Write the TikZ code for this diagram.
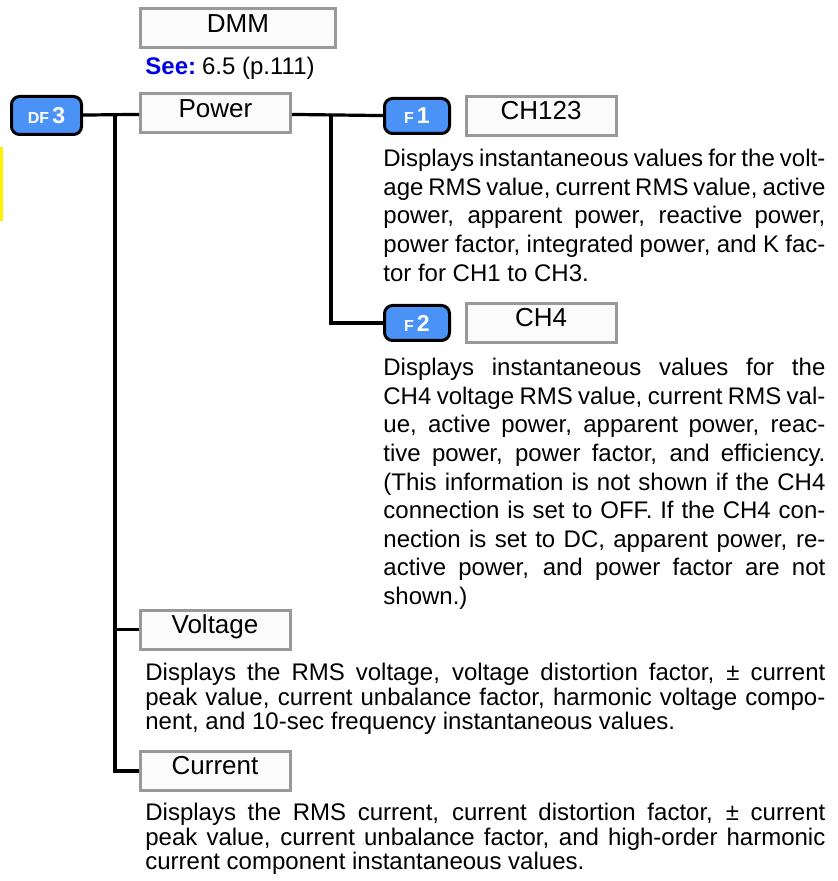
\documentclass[tikz,border=0pt]{standalone}
\usepackage{fontspec}
\setmainfont{Liberation Sans}
\usepackage{xcolor}
\usetikzlibrary{positioning}
\definecolor{keyblue}{RGB}{74,146,245}
\definecolor{framegray}{RGB}{153,153,153}
\definecolor{seeblue}{RGB}{0,0,235}
\newcommand{\keytext}[2]{{\fontsize{8}{8}\selectfont #1}\hspace{1.5pt}{\fontsize{11.5}{11.5}\selectfont #2}}

\begin{document}
\begin{tikzpicture}[
    x=0.5pt, y=-0.5pt,
    menu/.style={rectangle, draw=framegray, line width=1.5pt, fill=gray!3,
                 inner sep=0pt, minimum width=75pt, text height=11.6pt, text depth=7.9pt,
                 font=\fontsize{13}{14}\selectfont},
    key/.style={rectangle, rounded corners=4pt, draw=black, line width=1.5pt,
                fill=keyblue, text=white, inner sep=0pt, font=\bfseries},
    desc/.style={anchor=north west, inner sep=0pt, align=justify,
                 font=\fontsize{12}{14.3}\selectfont,
                 execute at begin node={\tolerance=10000\relax\hyphenpenalty=10000\relax}},
    wide/.style={desc, text width=340pt, font=\fontsize{12}{12.25}\selectfont},
    link/.style={line width=1.6pt},
]
    \useasboundingbox (0,0) rectangle (837,881);
    \fill[yellow] (0,147) rectangle (2.5,221);

    \node[menu, minimum width=97.5pt] (dmm) at (238,28.5) {DMM};
    \node[anchor=west, inner sep=0pt, font=\fontsize{12}{12}\selectfont] (see) at (145,68)
        {\textcolor{seeblue}{\textbf{See:}}\hspace{3pt}6.5 (p.111)};

    \node[key, minimum width=35pt, minimum height=19pt] (df3) at (46.5,115.5) {\keytext{DF}{3}};
    \node[menu] (power) at (215.5,113.5) {Power};

    \node[key, minimum width=32.5pt, minimum height=17.5pt] (f1) at (417,116) {\keytext{F}{1}};
    \node[menu] (ch123) at (541,116) {CH123};
    \node[desc, text width=221pt] (ch123txt) at (383,149)
        {Displays instantaneous values for the volt-\linebreak
         age RMS value, current RMS value, active\linebreak
         power, apparent power, reactive power,\linebreak
         power factor, integrated power, and K fac-\linebreak
         tor for CH1 to CH3.};

    \node[key, minimum width=32.5pt, minimum height=17.5pt] (f2) at (417,323) {\keytext{F}{2}};
    \node[menu] (ch4) at (541,323) {CH4};
    \node[desc, text width=221pt] (ch4txt) at (383,358)
        {Displays instantaneous values for the\linebreak
         CH4 voltage RMS value, current RMS val-\linebreak
         ue, active power, apparent power, reac-\linebreak
         tive power, power factor, and efficiency.\linebreak
         (This information is not shown if the CH4\linebreak
         connection is set to OFF. If the CH4 con-\linebreak
         nection is set to DC, apparent power, re-\linebreak
         active power, and power factor are not\linebreak
         shown.)};

    \node[menu] (voltage) at (215,629.5) {Voltage};
    \node[wide] (voltagetxt) at (145,663)
        {Displays the RMS voltage, voltage distortion factor, ± current\linebreak
         peak value, current unbalance factor, harmonic voltage compo-\linebreak
         nent, and 10-sec frequency instantaneous values.};

    \node[menu] (current) at (215,771) {Current};
    \node[wide] (currenttxt) at (145,803)
        {Displays the RMS current, current distortion factor, ± current\linebreak
         peak value, current unbalance factor, and high-order harmonic\linebreak
         current component instantaneous values.};

    \coordinate (trunk) at (115,116);
    \coordinate (fork) at (331,116);
    \draw[link] (df3) -- (power);
    \draw[link] (power) -- (f1);
    \draw[link] (trunk) |- (voltage.west);
    \draw[link] (trunk) |- (current.west);
    \draw[link] (fork) |- (f2.west);
\end{tikzpicture}
\end{document}
